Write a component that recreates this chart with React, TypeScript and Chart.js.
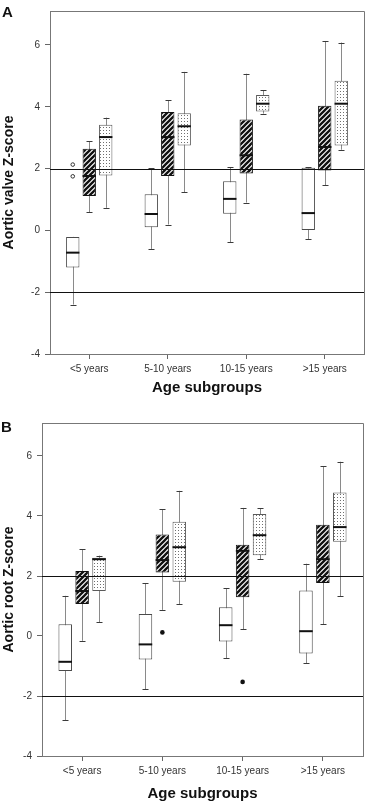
import React, { useEffect, useRef } from "react";
import { Chart, registerables } from "chart.js";

Chart.register(...registerables);

// ---------- shared ----------
const categories = ["<5 years", "5-10 years", "10-15 years", ">15 years"];
const yTicks = [-4, -2, 0, 2, 4, 6];
const yMin = -4;
const yMax = 7.1;
const refLines = [2, -2];

// ---------- Panel A : Aortic valve Z-score ----------
const aWhiteMin = [-2.4, -0.6, -0.38, -0.28];
const aWhiteQ1 = [-1.2, 0.1, 0.54, 0.0];
const aWhiteMed = [-0.72, 0.53, 1.02, 0.56];
const aWhiteQ3 = [-0.21, 1.17, 1.59, 2.03];
const aWhiteMax = [-0.21, 2.01, 2.05, 2.05];
const aWhiteOut = [[2.13, 1.75], [], [], []];

const aHatchMin = [0.58, 0.19, 0.9, 1.46];
const aHatchQ1 = [1.11, 1.76, 1.84, 1.94];
const aHatchMed = [1.76, 3.02, 2.43, 2.7];
const aHatchQ3 = [2.64, 3.83, 3.59, 4.03];
const aHatchMax = [2.89, 4.21, 5.07, 6.13];
const aHatchOut = [[], [], [], []];

const aDotMin = [0.73, 1.24, 3.78, 2.61];
const aDotQ1 = [1.78, 2.75, 3.85, 2.75];
const aDotMed = [3.02, 3.37, 4.1, 4.1];
const aDotQ3 = [3.42, 3.79, 4.38, 4.84];
const aDotMax = [3.65, 5.13, 4.53, 6.08];
const aDotOut = [[], [], [], []];

// ---------- Panel B : Aortic root Z-score ----------
const bWhiteMin = [-2.8, -1.77, -0.74, -0.91];
const bWhiteQ1 = [-1.17, -0.78, -0.18, -0.58];
const bWhiteMed = [-0.86, -0.28, 0.36, 0.16];
const bWhiteQ3 = [0.39, 0.73, 0.96, 1.52];
const bWhiteMax = [1.34, 1.76, 1.6, 2.41];
const bWhiteOut = [[], [], [], []];

const bHatchMin = [-0.16, 0.87, 0.23, 0.39];
const bHatchQ1 = [1.07, 2.12, 1.29, 1.77];
const bHatchMed = [1.5, 2.53, 2.84, 2.56];
const bHatchQ3 = [2.17, 3.38, 3.04, 3.71];
const bHatchMax = [2.9, 4.22, 4.27, 5.66];
const bHatchOut = [[], [0.12], [-1.53], []];

const bDotMin = [0.46, 1.06, 2.56, 1.32];
const bDotQ1 = [1.5, 1.81, 2.69, 3.14];
const bDotMed = [2.56, 2.96, 3.36, 3.63];
const bDotQ3 = [2.61, 3.81, 4.07, 4.78];
const bDotMax = [2.68, 4.84, 4.26, 5.81];
const bDotOut = [[], [], [], []];

type Series = {
  min: number[];
  q1: number[];
  med: number[];
  q3: number[];
  max: number[];
  out: number[][];
};

const FONT = "'Liberation Sans', Arial, Helvetica, sans-serif";

function makeHatch(): CanvasPattern | string {
  const s = 5;
  const c = document.createElement("canvas");
  c.width = s;
  c.height = s;
  const g = c.getContext("2d");
  if (!g) return "#333";
  g.fillStyle = "#fff";
  g.fillRect(0, 0, s, s);
  g.strokeStyle = "#111";
  g.lineWidth = 2.3;
  g.lineCap = "square";
  g.beginPath();
  g.moveTo(0, s);
  g.lineTo(s, 0);
  g.moveTo(-1, 1);
  g.lineTo(1, -1);
  g.moveTo(s - 1, s + 1);
  g.lineTo(s + 1, s - 1);
  g.stroke();
  return g.createPattern(c, "repeat") || "#333";
}

function makeDots(): CanvasPattern | string {
  const w = 3;
  const h = 3;
  const c = document.createElement("canvas");
  c.width = w;
  c.height = h;
  const g = c.getContext("2d");
  if (!g) return "#eee";
  g.fillStyle = "#fff";
  g.fillRect(0, 0, w, h);
  g.fillStyle = "#6f6f6f";
  g.fillRect(1, 1, 1, 1);
  return g.createPattern(c, "repeat") || "#eee";
}

type PanelProps = {
  width: number;
  height: number;
  series: Series[];
  yTitle: string;
  padTop: number;
  padRight: number;
  yWidth: number;
  xHeight: number;
  xTitlePad: number;
  catPct: number;
  barPct: number;
  filledOutliers: boolean;
};

function Panel(p: PanelProps) {
  const ref = useRef<HTMLCanvasElement | null>(null);

  useEffect(() => {
    const canvas = ref.current;
    if (!canvas) return;
    const hatch = makeHatch();
    const dots = makeDots();
    const fills = ["#ffffff", hatch, dots];
    const borders = ["#4a4a4a", "#111111", "#5a5a5a"];

    const extras = {
      id: "boxExtras",
      beforeDatasetsDraw(chart: any) {
        const { ctx } = chart;
        const y = chart.scales.y;
        ctx.save();
        p.series.forEach((s, di) => {
          const meta = chart.getDatasetMeta(di);
          meta.data.forEach((bar: any, i: number) => {
            const x = Math.round(bar.x) + 0.5;
            const yt = y.getPixelForValue(s.max[i]);
            const yb = y.getPixelForValue(s.min[i]);
            ctx.strokeStyle = "#8a8a8a";
            ctx.lineWidth = 1;
            ctx.beginPath();
            ctx.moveTo(x, yt);
            ctx.lineTo(x, yb);
            ctx.stroke();
            ctx.strokeStyle = "#3a3a3a";
            ctx.beginPath();
            ctx.moveTo(x - 3, Math.round(yt) + 0.5);
            ctx.lineTo(x + 3, Math.round(yt) + 0.5);
            ctx.moveTo(x - 3, Math.round(yb) + 0.5);
            ctx.lineTo(x + 3, Math.round(yb) + 0.5);
            ctx.stroke();
          });
        });
        ctx.restore();
      },
      afterDatasetsDraw(chart: any) {
        const { ctx, chartArea } = chart;
        const y = chart.scales.y;
        ctx.save();
        // medians
        p.series.forEach((s, di) => {
          const meta = chart.getDatasetMeta(di);
          meta.data.forEach((bar: any, i: number) => {
            const w = bar.width;
            const ym = y.getPixelForValue(s.med[i]);
            ctx.strokeStyle = "#111";
            ctx.lineWidth = 2;
            ctx.beginPath();
            ctx.moveTo(bar.x - w / 2, ym);
            ctx.lineTo(bar.x + w / 2, ym);
            ctx.stroke();
            // outliers
            s.out[i].forEach((v) => {
              const yo = y.getPixelForValue(v);
              ctx.beginPath();
              if (p.filledOutliers) {
                ctx.fillStyle = "#111";
                ctx.arc(bar.x, yo, 2.3, 0, Math.PI * 2);
                ctx.fill();
              } else {
                ctx.strokeStyle = "#333";
                ctx.lineWidth = 1;
                ctx.arc(bar.x, yo, 1.8, 0, Math.PI * 2);
                ctx.stroke();
              }
            });
          });
        });
        // reference lines
        ctx.strokeStyle = "#111";
        ctx.lineWidth = 1;
        refLines.forEach((v) => {
          const py = Math.round(y.getPixelForValue(v)) + 0.5;
          ctx.beginPath();
          ctx.moveTo(chartArea.left, py);
          ctx.lineTo(chartArea.right, py);
          ctx.stroke();
        });
        // frame top & right
        ctx.strokeStyle = "#777";
        ctx.beginPath();
        ctx.moveTo(chartArea.left, Math.round(chartArea.top) + 0.5);
        ctx.lineTo(Math.round(chartArea.right) + 0.5, Math.round(chartArea.top) + 0.5);
        ctx.lineTo(Math.round(chartArea.right) + 0.5, chartArea.bottom);
        ctx.stroke();
        ctx.restore();
      },
    };

    const chart = new Chart(canvas, {
      type: "bar",
      data: {
        labels: categories,
        datasets: p.series.map((s, di) => ({
          data: s.q1.map((q, i) => [q, s.q3[i]]),
          backgroundColor: fills[di] as any,
          borderColor: borders[di],
          borderWidth: 1,
          borderSkipped: false,
          categoryPercentage: p.catPct,
          barPercentage: p.barPct,
        })) as any,
      },
      options: {
        responsive: false,
        animation: false,
        devicePixelRatio: 1,
        layout: { padding: { top: p.padTop, right: p.padRight, left: 0, bottom: 0 } },
        plugins: {
          legend: { display: false },
          tooltip: { enabled: false },
        },
        scales: {
          x: {
            type: "category",
            offset: true,
            afterFit(scale: any) {
              scale.height = p.xHeight;
            },
            grid: {
              offset: false,
              drawOnChartArea: false,
              drawTicks: true,
              tickLength: 5,
              color: "#666",
            },
            border: { display: true, color: "#777", width: 1 },
            ticks: {
              autoSkip: false,
              maxRotation: 0,
              padding: 4,
              color: "#333",
              font: { family: FONT, size: 10 },
            },
            title: {
              display: true,
              text: "Age subgroups",
              color: "#111",
              padding: { top: 0, bottom: p.xTitlePad },
              font: { family: FONT, size: 15, weight: "bold", lineHeight: 1 },
            },
          },
          y: {
            type: "linear",
            min: yMin,
            max: yMax,
            afterFit(scale: any) {
              scale.width = p.yWidth;
            },
            afterBuildTicks(scale: any) {
              scale.ticks = yTicks.map((v) => ({ value: v }));
            },
            grid: {
              drawOnChartArea: false,
              drawTicks: true,
              tickLength: 5,
              color: "#666",
            },
            border: { display: true, color: "#777", width: 1 },
            ticks: {
              padding: 5,
              color: "#333",
              font: { family: FONT, size: 10 },
            },
            title: {
              display: true,
              text: p.yTitle,
              color: "#111",
              padding: { top: 2, bottom: 0 },
              font: { family: FONT, size: 14, weight: "bold", lineHeight: 1 },
            },
          },
        },
      },
      plugins: [extras as any],
    });
    return () => chart.destroy();
  }, []);

  return (
    <canvas
      ref={ref}
      width={p.width}
      height={p.height}
      style={{ display: "block", width: p.width, height: p.height }}
    />
  );
}

const seriesA: Series[] = [
  { min: aWhiteMin, q1: aWhiteQ1, med: aWhiteMed, q3: aWhiteQ3, max: aWhiteMax, out: aWhiteOut },
  { min: aHatchMin, q1: aHatchQ1, med: aHatchMed, q3: aHatchQ3, max: aHatchMax, out: aHatchOut },
  { min: aDotMin, q1: aDotQ1, med: aDotMed, q3: aDotQ3, max: aDotMax, out: aDotOut },
];
const seriesB: Series[] = [
  { min: bWhiteMin, q1: bWhiteQ1, med: bWhiteMed, q3: bWhiteQ3, max: bWhiteMax, out: bWhiteOut },
  { min: bHatchMin, q1: bHatchQ1, med: bHatchMed, q3: bHatchQ3, max: bHatchMax, out: bHatchOut },
  { min: bDotMin, q1: bDotQ1, med: bDotMed, q3: bDotQ3, max: bDotMax, out: bDotOut },
];

export default function App() {
  const label: React.CSSProperties = {
    position: "absolute",
    fontFamily: FONT,
    fontWeight: "bold",
    fontSize: 15,
    lineHeight: "15px",
    color: "#111",
  };
  return (
    <div
      style={{
        position: "fixed",
        left: 0,
        top: 0,
        width: 365,
        height: 801,
        overflow: "hidden",
        background: "#fff",
      }}
    >
      <div style={{ position: "absolute", left: 0, top: 0 }}>
        <Panel
          width={365}
          height={400}
          series={seriesA}
          yTitle="Aortic valve Z-score"
          padTop={4}
          padRight={1}
          yWidth={50}
          xHeight={46}
          xTitlePad={4.5}
          catPct={0.63}
          barPct={0.81}
          filledOutliers={false}
        />
      </div>
      <div style={{ position: "absolute", left: 0, top: 400 }}>
        <Panel
          width={365}
          height={401}
          series={seriesB}
          yTitle="Aortic root Z-score"
          padTop={23}
          padRight={2}
          yWidth={42}
          xHeight={45}
          xTitlePad={0}
          catPct={0.632}
          barPct={0.8}
          filledOutliers={true}
        />
      </div>
      <div style={{ ...label, left: 2, top: 4 }}>A</div>
      <div style={{ ...label, left: 1, top: 419 }}>B</div>
    </div>
  );
}
